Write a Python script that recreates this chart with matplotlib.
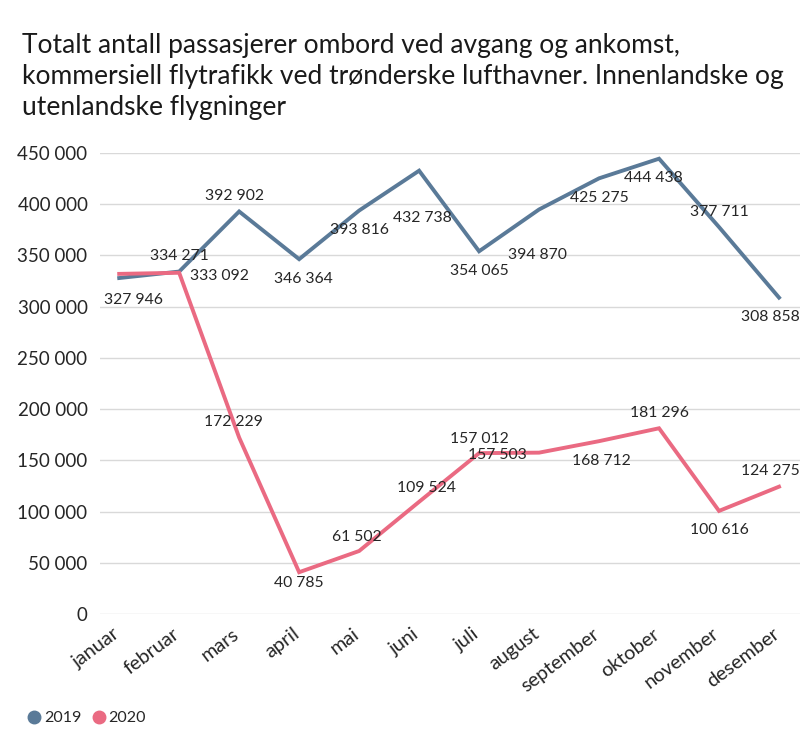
import matplotlib
matplotlib.use("Agg")
import matplotlib.pyplot as plt
import matplotlib.transforms as mtransforms
from matplotlib.ticker import FuncFormatter
from matplotlib.lines import Line2D

plt.rcParams['font.family'] = ['Lato', 'DejaVu Sans']

months = ["januar", "februar", "mars", "april", "mai", "juni", "juli",
          "august", "september", "oktober", "november", "desember"]
values_2019 = [327946, 334271, 392902, 346364, 393816, 432738, 354065,
               394870, 425275, 444438, 377711, 308858]
values_2020 = [332000, 333092, 172229, 40785, 61502, 109524, 157012,
               157503, 168712, 181296, 100616, 124275]
show_label_2020 = [False] + [True] * 11
yticks = [0, 50000, 100000, 150000, 200000, 250000, 300000, 350000, 400000, 450000]

title = ("Totalt antall passasjerer ombord ved avgang og ankomst,\n"
         "kommersiell flytrafikk ved trønderske lufthavner. Innenlandske og\n"
         "utenlandske flygninger")

c2019 = "#5A7A98"
c2020 = "#EA6A82"
txt = "#262626"

# label offsets in points (dx, dy)
off_2019 = [(10, -16), (0, 11), (-3, 11), (3, -14), (0, -14), (2, -34),
            (0, -14), (-1, -33), (0, -14), (-4, -14), (0, 11), (-6, -14)]
off_2020 = [(0, 0), (29, -2), (-4, 11), (0, -8), (-2, 10), (5, 10),
            (0, 10), (-30, -2), (2, -14), (0, 11), (0, -14), (-6, 11)]

fig = plt.figure(figsize=(8, 7.33), dpi=100)
ax = fig.add_axes([0.125, 1 - 614 / 733, 0.875, (614 - 153) / 733])

x = list(range(len(months)))
ax.plot(x, values_2019, color=c2019, lw=2.8, clip_on=False, solid_joinstyle='miter', zorder=3)
ax.plot(x, values_2020, color=c2020, lw=2.8, clip_on=False, solid_joinstyle='miter', zorder=3)

def fmt(v):
    return f"{v:,.0f}".replace(",", " ")

for i, v in enumerate(values_2019):
    ax.annotate(fmt(v), (i, v), xytext=off_2019[i], textcoords="offset points",
                ha="center", va="center", fontsize=11.3, color=txt, zorder=4)
for i, v in enumerate(values_2020):
    if show_label_2020[i]:
        ax.annotate(fmt(v), (i, v), xytext=off_2020[i], textcoords="offset points",
                    ha="center", va="center", fontsize=11.3, color=txt, zorder=4)

ax.set_xlim(-0.32, 11.35)
ax.set_ylim(0, 450000)
ax.set_yticks(yticks)
ax.yaxis.set_major_formatter(FuncFormatter(lambda v, p: fmt(v)))
ax.grid(axis='y', color="#D9D9D9", lw=1)
ax.set_axisbelow(True)
for s in ax.spines.values():
    s.set_visible(False)
ax.tick_params(axis='both', length=0, colors=txt)
ax.tick_params(axis='y', pad=9, labelsize=13.5)
ax.set_xticks(x)
ax.set_xticklabels(months, rotation=37, ha='right', rotation_mode='anchor', fontsize=14.3)
ax.tick_params(axis='x', pad=8)
shift = mtransforms.ScaledTranslation(-7 / 100, 0, fig.dpi_scale_trans)
for lab in ax.get_xticklabels():
    lab.set_transform(lab.get_transform() + shift)

fig.text(22 / 800, 1 - 33 / 733, title, ha='left', va='top', fontsize=19.0,
         color="#1a1a1a", linespacing=1.3)

handles = [Line2D([], [], marker='o', ls='', color=c2019, markersize=9),
           Line2D([], [], marker='o', ls='', color=c2020, markersize=9)]
fig.legend(handles, ["2019", "2020"], loc='center left', bbox_to_anchor=(12 / 800, 1 - 718 / 733),
           ncol=2, frameon=False, fontsize=11.5, handletextpad=0.1, columnspacing=0.6,
           handlelength=1.0, labelcolor=txt)

fig.savefig("out.png", dpi=100)
